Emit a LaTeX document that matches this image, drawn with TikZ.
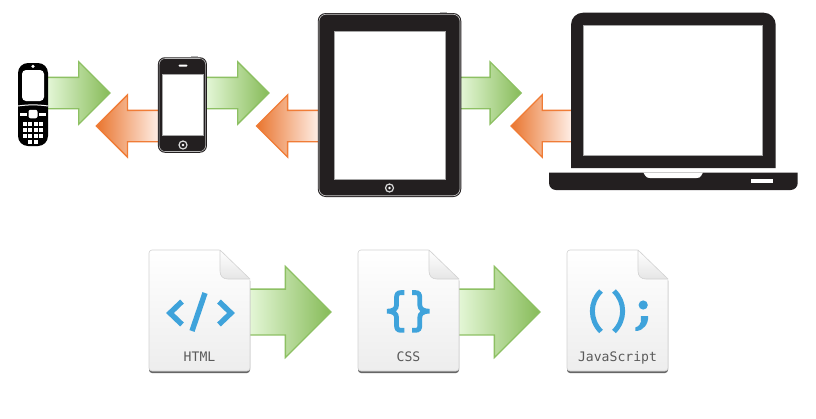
\documentclass[tikz,border=0pt]{standalone}
\usepackage{fontspec}
\setmonofont{DejaVu Sans Mono}
\usetikzlibrary{shapes.arrows, shadows, backgrounds, positioning}

\definecolor{devicedark}{HTML}{231F20}
\definecolor{greenedge}{HTML}{8DC063}
\definecolor{greenlight}{HTML}{E6F8D9}
\definecolor{greendark}{HTML}{86BB58}
\definecolor{orangeedge}{HTML}{F07C36}
\definecolor{orangelight}{HTML}{FFF1EA}
\definecolor{orangedark}{HTML}{E9752F}
\definecolor{glyphblue}{HTML}{3FA3DB}
\definecolor{labelgrey}{HTML}{5A5A5A}

\newcommand{\docfold}[1]{%
    \begin{scope}[shift={(#1.north east)}]
        \fill[white] (-31,-1) -- (2,-1) -- (2,32) -- cycle;
        \draw[foldflap] (-30,0) -- (-30,21) .. controls (-30,26) and (-27,29) .. (-22,29) -- (0,29) -- cycle;
    \end{scope}
}

\begin{document}
\begin{tikzpicture}[
    x=1pt, y=-1pt,
    devicebody/.style={rectangle, fill=devicedark, inner sep=0pt, outer sep=0pt},
    screen/.style={rectangle, fill=white, draw=gray!70, line width=.5pt, inner sep=0pt},
    rimline/.style={rectangle, draw=gray!55, line width=.6pt, inner sep=0pt},
    whitekey/.style={rectangle, fill=white, inner sep=0pt},
    homekey/.style={circle, fill=devicedark, draw=white!85!black, line width=1.2pt, minimum size=8pt, inner sep=0pt},
    homedot/.style={circle, fill=white, minimum size=2.6pt, inner sep=0pt},
    blockarrow/.style={single arrow, inner xsep=0pt, outer sep=0pt, line width=1.3pt, anchor=tail, single arrow tip angle=90},
    smallarrow/.style={blockarrow, inner ysep=15pt, single arrow head extend=15.5pt},
    bigarrow/.style={blockarrow, inner ysep=22.25pt, single arrow head extend=22.75pt, minimum height=83pt},
    fwdarrow/.style={draw=greenedge, left color=greenlight, right color=greendark},
    backarrow/.style={draw=orangeedge, left color=orangedark, right color=orangelight, shape border rotate=180},
    docpage/.style={rectangle, rounded corners=3pt, minimum width=101pt, minimum height=121pt, inner sep=0pt, outer sep=0pt,
        top color=white, bottom color=gray!14, draw=gray!35, line width=.6pt,
        drop shadow={shadow xshift=0pt, shadow yshift=-2pt, fill=black!75, opacity=.8}},
    foldflap/.style={draw=gray!35, line width=.6pt, bottom color=gray!20, top color=white, line join=round},
    doclabel/.style={font=\fontsize{13.1}{15}\selectfont\ttfamily, text=labelgrey, inner sep=0pt, text height=9.5pt, text depth=3pt},
    codeglyph/.style={draw=glyphblue, line width=5.4pt},
]
\useasboundingbox (0,0) rectangle (816,418);

\coordinate (fwdrow) at (0,93);
\coordinate (backrow) at (0,126);
\coordinate (docrow) at (0,312);

% --- flip phone ---
\node (flip) [devicebody, fill=black, minimum width=30pt, minimum height=83pt, rounded corners=10pt] at (33,104.5) {};
\node (flipscreen) [whitekey, minimum width=22pt, minimum height=31pt, rounded corners=4pt] at (33,85.5) {};
\node (flipdot) [whitekey, circle, minimum size=3.6pt] at (33,66.3) {};
\draw[white, line width=1pt] (flip.west |- 0,106) .. controls (28,104.5) and (38,104.5) .. (flip.east |- 0,106);
\node (flipnav) [whitekey, minimum width=9pt, minimum height=8.5pt, rounded corners=2pt] at (33,114) {};
\node (flipleft) [whitekey, minimum width=7pt, minimum height=3pt] at (23.5,114.5) {};
\node (flipright) [whitekey, minimum width=7pt, minimum height=3pt] at (42.5,114.5) {};
\foreach \kx in {24.8,30.3,35.8,41.3} {
    \foreach \ky in {124,130,136} {
        \fill[white] (\kx-2.1,\ky-2.2) rectangle (\kx+2.1,\ky+2.2);
    }
}
\foreach \kx in {30.3,35.8} {
    \fill[white] (\kx-2.1,142-2.2) rectangle (\kx+2.1,142+2.2);
}

% --- smart phone ---
\node (phone) [devicebody, minimum width=49pt, minimum height=95.5pt, rounded corners=7pt] at (182.4,105) {};
\node (phonerim) [rimline, minimum width=46.5pt, minimum height=93pt, rounded corners=6pt] at (phone) {};
\node (phonescreen) [screen, minimum width=40.5pt, minimum height=61pt] at (182.7,105) {};
\node (phonespeaker) [whitekey, minimum width=9pt, minimum height=2pt, rounded corners=1pt] at (183,65.5) {};
\node (phonehome) [homekey] at (183,145) {};
\node (phonehomedot) [homedot] at (phonehome) {};
\draw[gray!60, line width=1pt] (191,56.8) -- (198,56.8);

% --- tablet ---
\node (tablet) [devicebody, minimum width=143.5pt, minimum height=184pt, rounded corners=8pt] at (389.5,105) {};
\node (tabletrim) [rimline, draw=white!80!black, minimum width=141pt, minimum height=181.5pt, rounded corners=7pt] at (tablet) {};
\node (tabletscreen) [screen, minimum width=111.4pt, minimum height=148pt] at (390,105) {};
\node (tablethome) [homekey] at (389.5,188) {};
\node (tablethomedot) [homedot] at (tablethome) {};
\draw[gray!60, line width=1pt] (440,12.7) -- (447,12.7);

% --- laptop ---
\node (lid) [devicebody, fill=none, minimum width=204.7pt, minimum height=155.3pt] at (673.35,90.35) {};
\fill[devicedark, rounded corners=12pt] (lid.south west) -- (lid.north west) -- (lid.north east) -- (lid.south east);
\node (lidscreen) [screen, minimum width=179.4pt, minimum height=130pt] at (673,90.3) {};
\node (base) [devicebody, fill=none, minimum width=248.7pt, minimum height=17.3pt] at (673.35,181.35) {};
\fill[devicedark, rounded corners=7pt] (base.north west) -- (base.south west) -- (base.south east) -- (base.north east);
\fill[white] (643.3,172.5) -- (645.5,176) .. controls (646.5,177.6) and (648,178) .. (650,178) -- (696.5,178) .. controls (698.5,178) and (700,177.6) .. (701,176) -- (703,172.5) -- cycle;
\node (baseslot) [whitekey, minimum width=22.6pt, minimum height=4pt] at (762,181.3) {};

% --- pages ---
\node (html) [docpage] at (199.5,310.5) {};
\docfold{html}
\node (css) [docpage] at (408.5,310.5) {};
\docfold{css}
\node (js) [docpage] at (617.5,310.5) {};
\docfold{js}

\node (htmllabel) [doclabel, above=6.3pt of html.south] {HTML};
\node (csslabel) [doclabel, above=6.3pt of css.south] {CSS};
\node (jslabel) [doclabel, above=6.3pt of js.south] {JavaScript};

% --- page glyphs ---
\draw[codeglyph, line join=miter] (182,301.5) -- (170,313) -- (182,324.5);
\draw[codeglyph, line join=miter] (219,301.5) -- (231,313) -- (219,324.5);
\draw[codeglyph] (205,293) -- (192,331);

\draw[codeglyph, line width=4.8pt] (404.3,292.6) -- (401,292.6) .. controls (397.5,292.6) and (396.5,294.5) .. (396.5,298) -- (396.5,305) .. controls (396.5,308.5) and (394,311.2) .. (387,311.2) .. controls (394,311.2) and (396.5,314) .. (396.5,317.5) -- (396.5,325) .. controls (396.5,328.5) and (397.5,330.3) .. (401,330.3) -- (404.3,330.3);
\draw[codeglyph, line width=4.8pt] (412,292.6) -- (415.3,292.6) .. controls (418.8,292.6) and (419.8,294.5) .. (419.8,298) -- (419.8,305) .. controls (419.8,308.5) and (422.3,311.2) .. (429.5,311.2) .. controls (422.3,311.2) and (419.8,314) .. (419.8,317.5) -- (419.8,325) .. controls (419.8,328.5) and (418.8,330.3) .. (415.3,330.3) -- (412,330.3);

\draw[codeglyph, line width=5pt] (601,291) .. controls (589.5,302) and (589.5,320) .. (601,331.5);
\draw[codeglyph, line width=5pt] (614,291) .. controls (625.5,302) and (625.5,320) .. (614,331.5);
\fill[glyphblue] (643.2,305) circle (4.6);
\fill[glyphblue] (640.8,316) -- (648.2,316) .. controls (648.5,324) and (643.5,331) .. (635.5,331) -- (635.3,327.5) .. controls (638.5,326.5) and (641,324) .. (641,321.5) -- cycle;

% --- block arrows ---
\begin{scope}[on background layer]
\fill[white] (0,0) rectangle (816,418);
\node (flipfwd) [smallarrow, fwdarrow, minimum height=64pt] at ([xshift=-2pt]flip.east |- fwdrow) {};
\node (phonefwd) [smallarrow, fwdarrow, minimum height=64pt] at ([xshift=-2pt]phone.east |- fwdrow) {};
\node (tabletfwd) [smallarrow, fwdarrow, minimum height=62pt] at ([xshift=-2pt]tablet.east |- fwdrow) {};
\node (phoneback) [smallarrow, backarrow, minimum height=63.5pt] at ([xshift=2pt]phone.west |- backrow) {};
\node (tabletback) [smallarrow, backarrow, minimum height=63.3pt] at ([xshift=2pt]tablet.west |- backrow) {};
\node (lidback) [smallarrow, backarrow, minimum height=62pt] at ([xshift=2pt]lid.west |- backrow) {};
\node (htmlfwd) [bigarrow, fwdarrow] at ([xshift=-2pt]html.east |- docrow) {};
\node (cssfwd) [bigarrow, fwdarrow] at ([xshift=-2pt]css.east |- docrow) {};
\end{scope}

\end{tikzpicture}
\end{document}
